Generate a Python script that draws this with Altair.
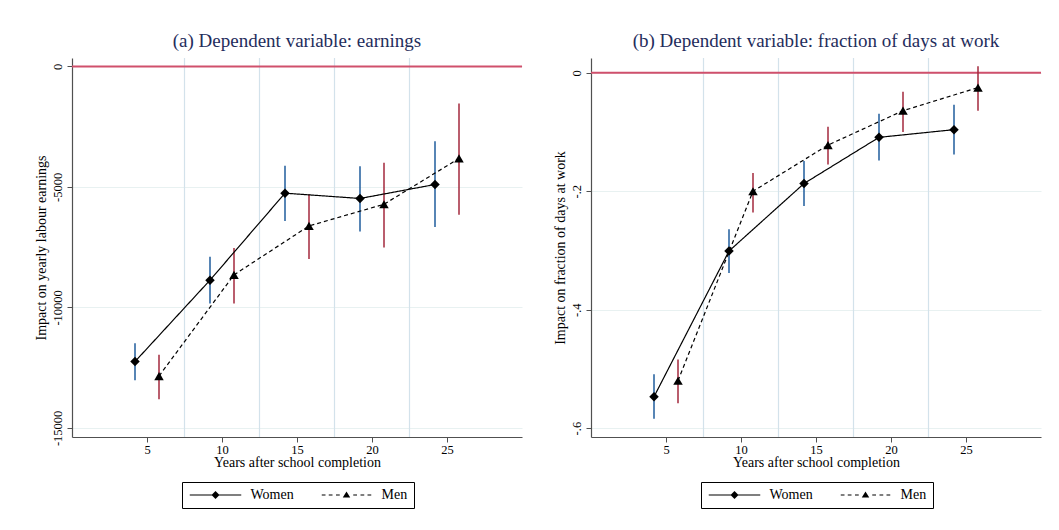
import altair as alt
import pandas as pd

# ---- data ----
sexes = ["Women", "Men"]
x_women = [4.2, 9.2, 14.2, 19.2, 24.2]
x_men = [5.8, 10.8, 15.8, 20.8, 25.8]

earn_w = [-12250, -8870, -5260, -5480, -4900]
earn_w_lo = [-13020, -9840, -6410, -6850, -6660]
earn_w_hi = [-11490, -7900, -4120, -4140, -3110]
earn_m = [-12850, -8650, -6620, -5720, -3820]
earn_m_lo = [-13810, -9840, -7990, -7520, -6160]
earn_m_hi = [-11970, -7540, -5300, -4000, -1540]

work_w = [-0.547, -0.301, -0.187, -0.109, -0.096]
work_w_lo = [-0.584, -0.338, -0.225, -0.148, -0.138]
work_w_hi = [-0.509, -0.264, -0.149, -0.069, -0.054]
work_m = [-0.520, -0.200, -0.122, -0.064, -0.025]
work_m_lo = [-0.558, -0.236, -0.155, -0.100, -0.064]
work_m_hi = [-0.484, -0.169, -0.091, -0.032, 0.011]

separators = [7.5, 12.5, 17.5, 22.5]
x_ticks = [5, 10, 15, 20, 25]
earn_ticks = [-15000, -10000, -5000, 0]
work_ticks = [-0.6, -0.4, -0.2, 0]

FONT = "Liberation Serif"
TITLE_COLOR = "#1f2d5c"
AXIS_COLOR = "#505050"
RED_LINE = "#d0506c"
CI_COLORS = ["#1f5c9c", "#a3283c"]
SEP_COLOR = "#d3e2eb"
GRID_COLOR = "#e8f1f1"

# legend key glyphs (unit coordinates, filled shapes): line + diamond, dashed line + triangle
LEG_WOMEN = ("M-5.15,-0.11H5.15V0.11H-5.15Z"
             "M0,-0.8L0.8,0L0,0.8L-0.8,0Z")
LEG_MEN = ("M-4.95,-0.11H-4.2V0.11H-4.95Z"
           "M-3.55,-0.11H-2.8V0.11H-3.55Z"
           "M-2.1,-0.11H-1.35V0.11H-2.1Z"
           "M1.35,-0.11H2.1V0.11H1.35Z"
           "M2.8,-0.11H3.55V0.11H2.8Z"
           "M4.2,-0.11H4.95V0.11H4.2Z"
           "M0,-0.7L0.75,0.5L-0.75,0.5Z")


def make_df(xw, xm, w, wlo, whi, m, mlo, mhi):
    rows = []
    for i in range(len(xw)):
        rows.append(dict(sex="Women", x=xw[i], est=w[i], lo=wlo[i], hi=whi[i]))
    for i in range(len(xm)):
        rows.append(dict(sex="Men", x=xm[i], est=m[i], lo=mlo[i], hi=mhi[i]))
    return pd.DataFrame(rows)


def panel(df, title, ytitle, ydomain, yticks, label_expr):
    xscale = alt.Scale(domain=[0, 30], nice=False, zero=False)
    yscale = alt.Scale(domain=ydomain, nice=False, zero=False)
    xaxis = alt.Axis(values=x_ticks, title="Years after school completion", grid=False,
                     labelFont=FONT, labelFontSize=12.5, labelColor="black",
                     titleFont=FONT, titleFontSize=14, titleFontWeight="normal",
                     titleColor="black", titlePadding=0, tickSize=5, labelPadding=1,
                     domainColor=AXIS_COLOR, tickColor=AXIS_COLOR, domainWidth=1.2)
    yaxis = alt.Axis(values=yticks, title=ytitle, grid=True, gridColor=GRID_COLOR,
                     labelExpr=label_expr, labelAngle=270,
                     labelFont=FONT, labelFontSize=12.5, labelColor="black",
                     titleFont=FONT, titleFontSize=14, titleFontWeight="normal",
                     titleColor="black", titlePadding=3, tickSize=5, labelPadding=3,
                     domainColor=AXIS_COLOR, tickColor=AXIS_COLOR, domainWidth=1.2)
    X = alt.X("x:Q", scale=xscale, axis=xaxis)
    base = alt.Chart(df)

    seps = alt.Chart(pd.DataFrame({"s": separators})).mark_rule(
        color=SEP_COLOR, strokeWidth=1.2).encode(x=alt.X("s:Q", scale=xscale, axis=xaxis))
    zero = alt.Chart(pd.DataFrame({"z": [0]})).mark_rule(
        color=RED_LINE, strokeWidth=2).encode(y=alt.Y("z:Q", scale=yscale, axis=yaxis))
    bars = base.mark_rule(strokeWidth=1.5).encode(
        x=X,
        y=alt.Y("lo:Q", scale=yscale, axis=yaxis),
        y2="hi:Q",
        color=alt.Color("sex:N", scale=alt.Scale(domain=sexes, range=CI_COLORS), legend=None),
    )
    lines = base.mark_line(color="black", strokeWidth=1.2).encode(
        x=X,
        y=alt.Y("est:Q", scale=yscale, axis=yaxis),
        detail="sex:N",
        strokeDash=alt.StrokeDash("sex:N", scale=alt.Scale(domain=sexes, range=[[1, 0], [4, 3]]),
                                  legend=None),
    )
    points = base.mark_point(filled=True, color="black", opacity=1, size=90).encode(
        x=X,
        y=alt.Y("est:Q", scale=yscale, axis=yaxis),
        shape=alt.Shape("sex:N", scale=alt.Scale(domain=sexes, range=["diamond", "triangle-up"]),
                        legend=None),
    )
    legend = alt.Legend(
        title=None, orient="none", legendX=110, legendY=424, direction="horizontal",
        labelFont=FONT, labelFontSize=14, labelColor="black",
        strokeColor="black", padding=6, columnPadding=25,
        symbolOffset=20.5, labelOffset=28, symbolStrokeWidth=0,
        symbolFillColor="black", symbolOpacity=1,
    )
    leg = base.transform_filter("false").mark_point(
        filled=True, fill="black", opacity=1, size=100
    ).encode(
        x=X,
        y=alt.Y("est:Q", scale=yscale, axis=yaxis),
        shape=alt.Shape("sex:N", scale=alt.Scale(domain=sexes, range=[LEG_WOMEN, LEG_MEN]),
                        legend=legend),
    )
    ch = alt.layer(seps, zero, bars, lines, points, leg).resolve_scale(
        shape="independent", strokeDash="independent", color="independent"
    ).properties(
        width=450, height=379,
        title=alt.TitleParams(title, font=FONT, fontSize=19, fontWeight="normal",
                              color=TITLE_COLOR, anchor="middle", offset=6),
    )
    return ch


df_a = make_df(x_women, x_men, earn_w, earn_w_lo, earn_w_hi, earn_m, earn_m_lo, earn_m_hi)
df_b = make_df(x_women, x_men, work_w, work_w_lo, work_w_hi, work_m, work_m_lo, work_m_hi)

pa = panel(df_a, "(a) Dependent variable: earnings", "Impact on yearly labour earnings",
           [-15380, 350], earn_ticks,
           "datum.value == 0 ? '0' : '-' + format(abs(datum.value), 'd')")
pb = panel(df_b, "(b) Dependent variable: fraction of days at work", "Impact on fraction of days at work",
           [-0.615, 0.025], work_ticks,
           "datum.value == 0 ? '0' : '-' + replace(format(abs(datum.value), '.1f'), '0.', '.')")

chart = alt.hconcat(pa, pb, spacing=30).resolve_scale(
    shape="independent", strokeDash="independent", color="independent"
).resolve_legend(shape="independent").properties(
    padding={"left": 33, "top": 32, "right": 5, "bottom": 5},
    background="white",
).configure_view(stroke=None)

chart.save("out.html", embed_options={"renderer": "svg", "actions": False})
